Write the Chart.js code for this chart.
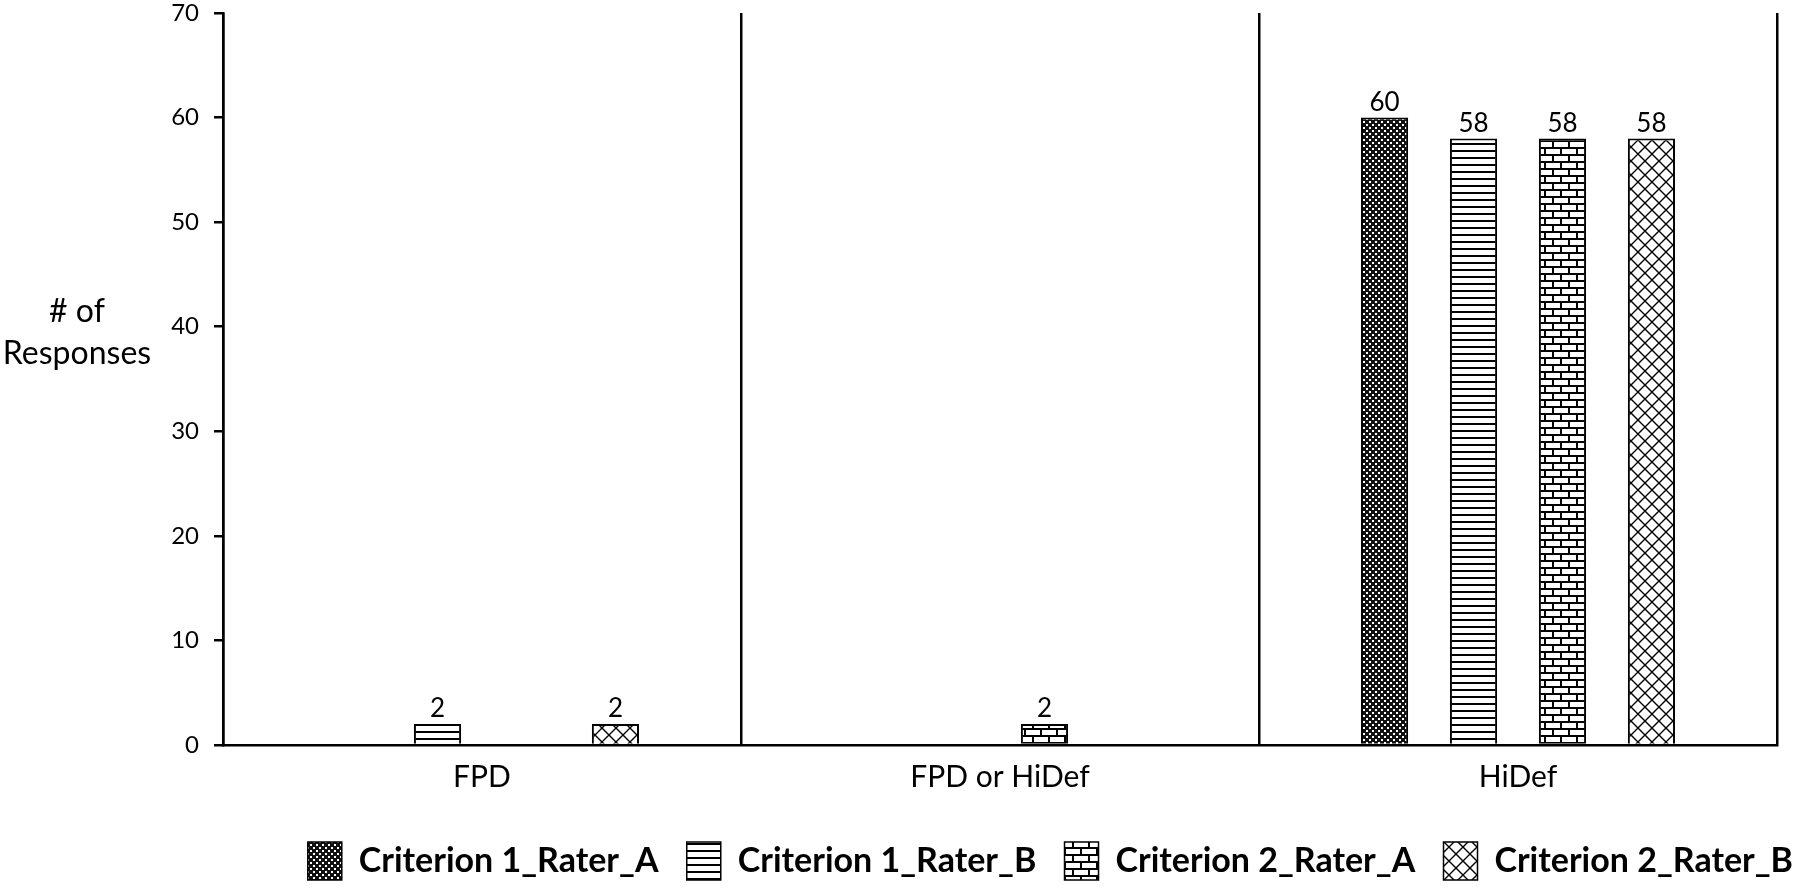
<!DOCTYPE html>
<html>
<head>
<meta charset="utf-8">
<script src="https://cdn.jsdelivr.net/npm/chart.js@4/dist/chart.umd.min.js"></script>
<style>
  html, body { margin: 0; padding: 0; background: #ffffff; }
  #wrap { width: 1800px; height: 890px; }
</style>
</head>
<body>
<div id="wrap"><canvas id="chart" width="1800" height="890"></canvas></div>
<script>
// Date
var categories = ['FPD', 'FPD or HiDef', 'HiDef'];
var seriesNames = ['Criterion 1_Rater_A', 'Criterion 1_Rater_B', 'Criterion 2_Rater_A', 'Criterion 2_Rater_B'];
var c1RaterA = [0, 0, 60];
var c1RaterB = [2, 0, 58];
var c2RaterA = [0, 2, 58];
var c2RaterB = [2, 0, 58];
var yTicks = [0, 10, 20, 30, 40, 50, 60, 70];
var yTitleLines = ['# of', 'Responses'];

var FONT = "Lato, 'Open Sans', sans-serif";

// Texturi alb-negru pentru bare (ca in Excel)
function makePattern(kind) {
    var c = document.createElement('canvas');
    var g = c.getContext('2d');
    if (kind === 'mesh') {
        c.width = 6; c.height = 6;
        g.fillStyle = '#111';
        g.fillRect(0, 0, 6, 6);
        g.fillStyle = '#fff';
        g.fillRect(1, 1, 2, 2);
        g.fillRect(4, 4, 2, 2);
    } else if (kind === 'hlines') {
        c.width = 8; c.height = 7;
        g.fillStyle = '#fff';
        g.fillRect(0, 0, 8, 7);
        g.fillStyle = '#000';
        g.fillRect(0, 3, 8, 2);
    } else if (kind === 'bricks') {
        c.width = 16; c.height = 14;
        g.fillStyle = '#fff';
        g.fillRect(0, 0, 16, 14);
        g.fillStyle = '#000';
        g.fillRect(0, 0, 16, 2);
        g.fillRect(0, 7, 16, 2);
        g.fillRect(0, 0, 2, 7);
        g.fillRect(8, 7, 2, 7);
    } else {
        c.width = 14; c.height = 14;
        g.fillStyle = '#fff';
        g.fillRect(0, 0, 14, 14);
        g.strokeStyle = '#000';
        g.lineWidth = 1.4;
        g.beginPath();
        g.moveTo(-1, -1); g.lineTo(15, 15);
        g.moveTo(15, -1); g.lineTo(-1, 15);
        g.stroke();
    }
    return g.createPattern(c, 'repeat');
}

var fills = [makePattern('mesh'), makePattern('hlines'), makePattern('bricks'), makePattern('cross')];
var seriesData = [c1RaterA, c1RaterB, c2RaterA, c2RaterB];

var datasets = seriesData.map(function (d, i) {
    return {
        label: seriesNames[i],
        data: d,
        backgroundColor: fills[i],
        borderColor: '#000',
        borderWidth: function (ctx) { return ctx.raw ? 2 : 0; },
        borderSkipped: 'bottom',
        categoryPercentage: 0.687,
        barPercentage: 0.53
    };
});

// Etichete cu valori deasupra barelor (fara zero)
var valueLabels = {
    id: 'valueLabels',
    afterDatasetsDraw: function (chart) {
        var ctx = chart.ctx;
        ctx.save();
        ctx.font = '26px ' + FONT;
        ctx.fillStyle = '#000';
        ctx.textAlign = 'center';
        ctx.textBaseline = 'bottom';
        chart.data.datasets.forEach(function (ds, i) {
            var meta = chart.getDatasetMeta(i);
            meta.data.forEach(function (bar, j) {
                var v = ds.data[j];
                if (!v) return;
                ctx.fillText(String(v), bar.x, bar.y - 2);
            });
        });
        ctx.restore();
    }
};

// Titlul axei Y, orizontal, pe doua randuri
var yTitle = {
    id: 'yTitle',
    afterDraw: function (chart) {
        var ctx = chart.ctx;
        ctx.save();
        ctx.font = '32px ' + FONT;
        ctx.fillStyle = '#000';
        ctx.textAlign = 'center';
        ctx.textBaseline = 'middle';
        ctx.fillText(yTitleLines[0], 77, 312);
        ctx.fillText(yTitleLines[1], 77, 354);
        ctx.restore();
    }
};

new Chart(document.getElementById('chart'), {
    type: 'bar',
    data: { labels: categories, datasets: datasets },
    plugins: [valueLabels, yTitle],
    options: {
        responsive: false,
        animation: false,
        layout: { padding: { left: 0, right: 0, top: 13, bottom: 0 } },
        plugins: {
            legend: {
                position: 'bottom',
                align: 'end',
                labels: {
                    color: '#000',
                    font: { family: FONT, size: 34, weight: 'bold' },
                    boxWidth: 34,
                    boxHeight: 38,
                    padding: 7,
                    generateLabels: function (chart) {
                        return chart.data.datasets.map(function (ds, i) {
                            var pad = i < chart.data.datasets.length - 1 ? '\u2002\u2009' : '';
                            return {
                                text: ds.label + pad,
                                fillStyle: ds.backgroundColor,
                                strokeStyle: '#000',
                                lineWidth: 1.5,
                                fontColor: '#000',
                                hidden: false,
                                datasetIndex: i
                            };
                        });
                    }
                }
            },
            tooltip: { enabled: false }
        },
        scales: {
            x: {
                ticks: { color: '#000', font: { family: FONT, size: 30 }, padding: 14 },
                grid: { offset: true, drawTicks: false, color: '#000', lineWidth: 2.5 },
                border: { color: '#000', width: 2.5 },
                afterFit: function (scale) { scale.height = 90; }
            },
            y: {
                min: 0,
                max: 70,
                afterBuildTicks: function (scale) {
                    scale.ticks = yTicks.map(function (v) { return { value: v }; });
                },
                ticks: { color: '#000', font: { family: FONT, size: 24 }, padding: 15 },
                grid: { drawOnChartArea: false, tickLength: 9, color: '#000', lineWidth: 2.5 },
                border: { color: '#000', width: 2.5 },
                afterFit: function (scale) {
                    scale.width = 223;
                    scale.paddingTop = 0;
                    scale.paddingBottom = 0;
                }
            },
            // margine dreapta goala, ca in original
            yRight: {
                position: 'right',
                display: true,
                ticks: { display: false },
                grid: { display: false },
                border: { display: false },
                afterFit: function (scale) { scale.width = 23; }
            }
        }
    }
});
</script>
</body>
</html>
